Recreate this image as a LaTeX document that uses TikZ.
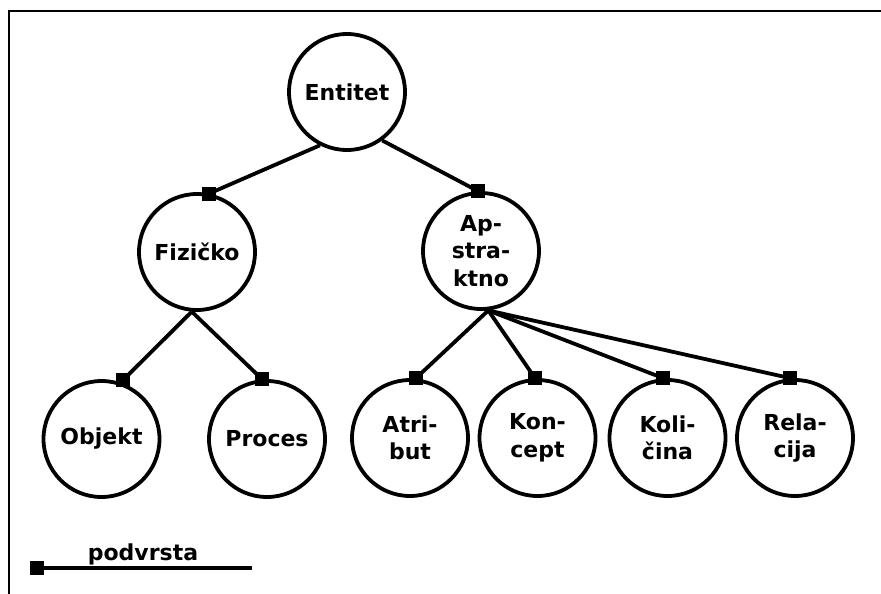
\documentclass[tikz,border=0pt]{standalone}
\usepackage{fontspec}
\setmainfont{DejaVu Sans}
\usetikzlibrary{calc}
\tikzset{
  ent/.style={circle, draw, line width=3.8pt, minimum size=116pt, inner sep=0pt,
    align=center, font=\fontsize{22}{27.5}\selectfont\bfseries},
  sq/.style={rectangle, fill=black, minimum size=14pt, inner sep=0pt},
  conn/.style={line width=3.8pt},
  frame/.style={line width=2pt}
}
\begin{document}
\begin{tikzpicture}[x=1pt,y=-1pt]
\useasboundingbox (0,0) rectangle (881,594);
% frame
\coordinate (fr1) at (9,594);
\coordinate (fr2) at (9,11);
\coordinate (fr3) at (881,11);
\draw[frame] (fr1) -- (fr2) -- (fr3);
% nodes
\node[ent] (ent) at (347,92) {Entitet};
\node[ent] (fiz) at (197,252) {Fizičko};
\node[ent] (aps) at (481,251) {Ap-\\stra-\\ktno};
\node[ent] (obj) at (101.5,439) {Objekt};
\node[ent] (pro) at (267,439) {Proces};
\node[ent] (atr) at (410,438) {Atri-\\but};
\node[ent] (kon) at (537.5,438) {Kon-\\cept};
\node[ent] (kol) at (667.5,438) {Koli-\\čina};
\node[ent] (rel) at (795,438) {Rela-\\cija};
% squares
\node[sq] (sfiz) at ($(fiz.north)+(12,1.5)$) {};
\node[sq] (saps) at ($(aps.north)+(-3,0)$) {};
\node[sq] (sobj) at ($(obj.north)+(21.5,1)$) {};
\node[sq] (spro) at ($(pro.north)+(-5,0)$) {};
\node[sq] (satr) at ($(atr.north)+(6,0)$) {};
\node[sq] (skon) at ($(kon.north)+(-2.5,0)$) {};
\node[sq] (skol) at ($(kol.north)+(-4.5,0)$) {};
\node[sq] (srel) at ($(rel.north)+(-5,0)$) {};
% connectors
\draw[conn] (ent.243) -- (sfiz.center);
\draw[conn] (ent.306) -- (saps.center);
\draw[conn] (fiz.265) -- (sobj.center);
\draw[conn] (fiz.265) -- (spro.center);
\draw[conn] (aps.277) -- (satr.center);
\draw[conn] (aps.277) -- (skon.center);
\draw[conn] (aps.277) -- (skol.center);
\draw[conn] (aps.277) -- (srel.center);
% legend
\node[sq] (lsq) at (37,568) {};
\coordinate (lend) at (252,568);
\draw[conn] (lsq.center) -- (lend);
\node[anchor=base, inner sep=0pt, font=\fontsize{22}{26}\selectfont\bfseries] (ltxt) at (143,560) {podvrsta};
\end{tikzpicture}
\end{document}
